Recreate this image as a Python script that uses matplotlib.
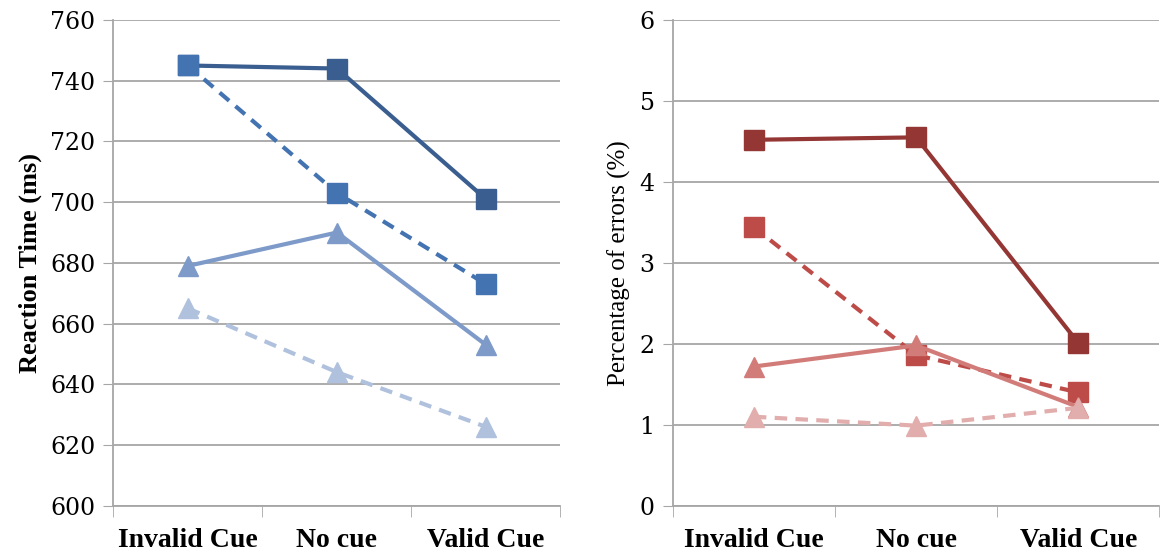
import matplotlib.pyplot as plt
import numpy as np

plt.rcParams['font.family'] = ['Liberation Serif', 'DejaVu Serif']

cats = ['Invalid Cue', 'No cue', 'Valid Cue']

# reaction time (ms)
rt_sq_solid = [745, 744, 701]
rt_sq_dash = [745, 703, 673]
rt_tri_solid = [679, 690, 653]
rt_tri_dash = [665, 644, 626]

# percentage of errors
er_sq_solid = [4.52, 4.55, 2.01]
er_sq_dash = [3.44, 1.86, 1.40]
er_tri_solid = [1.72, 1.98, 1.22]
er_tri_dash = [1.10, 0.99, 1.21]

blues = ['#395E8F', '#4373B0', '#7D9AC9', '#B0C1DD']
reds = ['#933634', '#BD4B48', '#D27C7A', '#E2AEAD']


def draw(ax, series, colors, ylim, step, ylabel, lweight, lsize):
    x = np.arange(len(cats))
    styles = [('s', '-'), ('s', '--'), ('^', '-'), ('^', '--')]
    for y, c, (m, ls) in zip(series, colors, styles):
        ax.plot(x, y, color=c, linestyle=ls, linewidth=3, marker=m,
                markersize=14 if m == 's' else 15, markeredgecolor=c,
                dashes=(3, 2) if ls == '--' else (None, None))
    ax.set_xlim(-0.5, len(cats) - 0.5)
    ax.set_ylim(*ylim)
    ax.set_yticks(np.arange(ylim[0], ylim[1] + step / 2, step))
    ax.yaxis.grid(True, color='#A6A6A6', linewidth=1.3)
    ax.set_axisbelow(True)
    ax.set_xticks(x)
    ax.set_xticklabels(cats, fontsize=20, fontweight='bold')
    ax.set_xticks(np.arange(-0.5, len(cats)), minor=True)
    ax.tick_params(axis='x', which='major', length=0, pad=16)
    ax.tick_params(axis='x', which='minor', length=8, color='#A6A6A6')
    ax.tick_params(axis='y', length=7, color='#A6A6A6', pad=6)
    for t in ax.get_yticklabels():
        t.set_fontfamily('DejaVu Serif')
        t.set_fontsize(17)
    ax.set_ylabel(ylabel, fontsize=lsize, fontweight=lweight, labelpad=6)
    for s in ['top', 'right']:
        ax.spines[s].set_visible(False)
    for s in ['left', 'bottom']:
        ax.spines[s].set_color('#A6A6A6')
        ax.spines[s].set_linewidth(1.3)


fig = plt.figure(figsize=(11.7, 5.54), dpi=100)
ax1 = fig.add_axes([0.097, 0.087, 0.382, 0.877])
ax2 = fig.add_axes([0.575, 0.087, 0.416, 0.877])

draw(ax1, [rt_sq_solid, rt_sq_dash, rt_tri_solid, rt_tri_dash], blues,
     (600, 760), 20, 'Reaction Time (ms)', 'bold', 19)
draw(ax2, [er_sq_solid, er_sq_dash, er_tri_solid, er_tri_dash], reds,
     (0, 6), 1, 'Percentage of errors (%)', 'normal', 18)

plt.savefig('out.png', dpi=100)
